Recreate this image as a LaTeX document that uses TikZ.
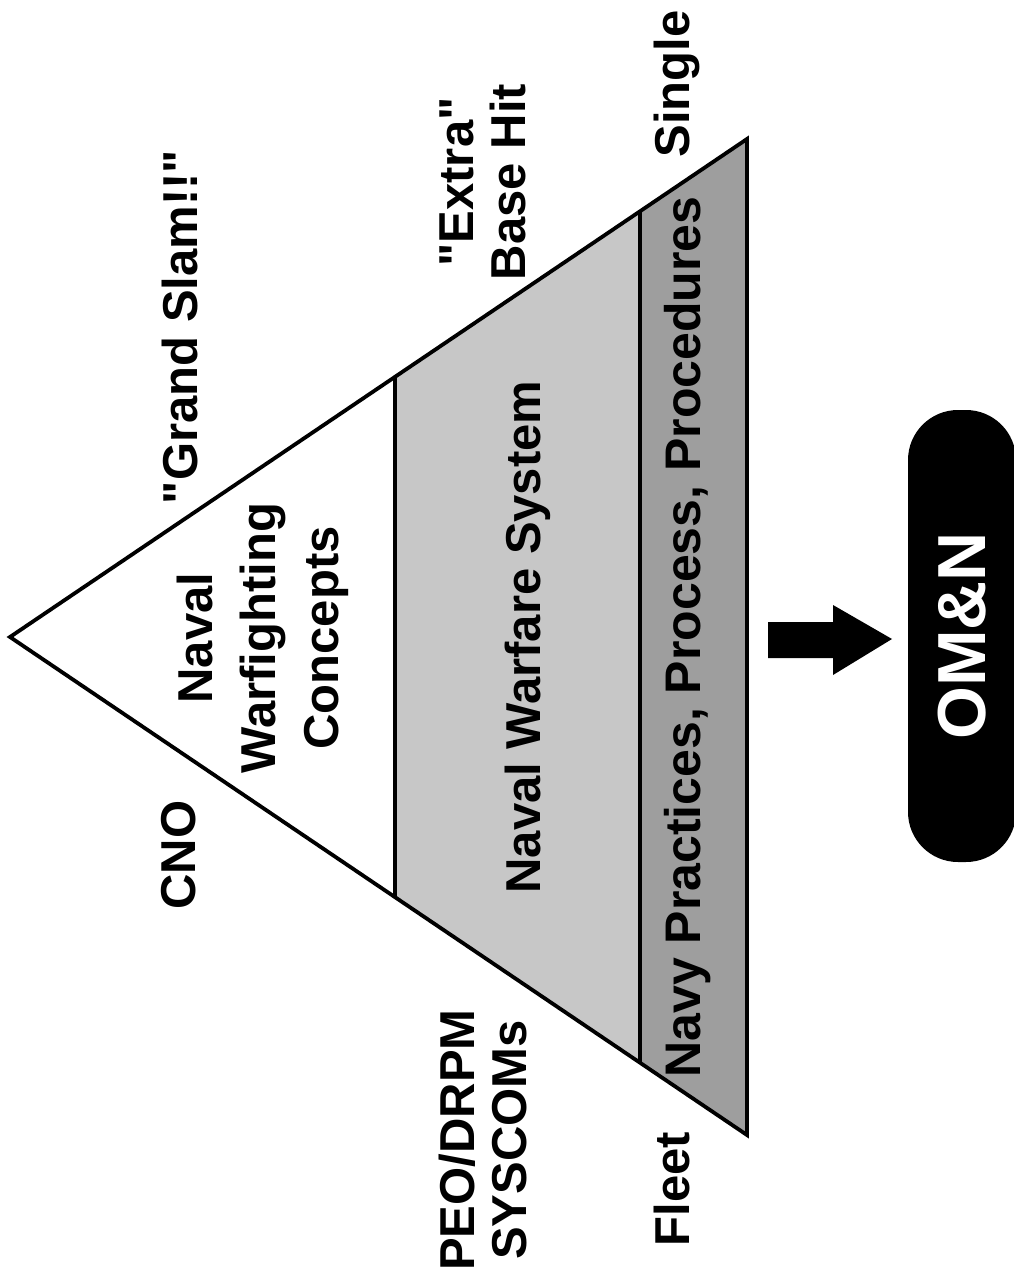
\documentclass[tikz,border=0pt]{standalone}
\usepackage{fontspec}
\newfontfamily\arialfam{Liberation Sans}
\begin{document}
\begin{tikzpicture}[x=1pt,y=-1pt,
  lbl/.style={font=\arialfam\fontsize{49}{52}\selectfont\bfseries, rotate=90, inner sep=0pt, align=center},
  edge/.style={line width=3.8pt, line join=miter},
  divider/.style={line width=3.2pt},
  pill/.style={fill=black, rounded corners=50pt, rotate=90, minimum width=452pt, minimum height=108pt, inner sep=0pt,
    text=white, font=\arialfam\fontsize{68}{70}\selectfont\bfseries}]
\definecolor{bandA}{gray}{0.78}
\definecolor{bandB}{gray}{0.62}
\useasboundingbox (0,0) rectangle (1014,1279);
% triangle geometry
\coordinate (apex) at (10,637);
\coordinate (tr) at (747,139);
\coordinate (br) at (747,1135);
\coordinate (d1t) at (395,376.8);
\coordinate (d1b) at (395,897.2);
\coordinate (d2t) at (640,211.3);
\coordinate (d2b) at (640,1062.7);
\fill[bandA] (d1t) -- (d2t) -- (d2b) -- (d1b) -- cycle;
\fill[bandB] (d2t) -- (tr) -- (br) -- (d2b) -- cycle;
\draw[divider] (d1t) -- (d1b);
\draw[divider] (d2t) -- (d2b);
\draw[edge] (apex) -- (tr) -- (br) -- cycle;
% labels
\node[lbl, anchor=base] (grand) at (197,327) {"Grand Slam!!"};
\node[lbl, anchor=base] (cno) at (195,855) {CNO};
\node[lbl, font=\arialfam\fontsize{49}{63}\selectfont\bfseries] (nwc) at (263,638) {Naval\\Warfighting\\Concepts};
\node[lbl] (extra) at (483,182) {"Extra"\\Base Hit};
\node[lbl] (peo) at (483,1140) {PEO/DRPM\\SYSCOMs};
\node[lbl, anchor=base] (nws) at (540,637) {Naval Warfare System};
\node[lbl, anchor=base] (single) at (689,84) {Single};
\node[lbl, anchor=base] (fleet) at (689,1189) {Fleet};
\node[lbl, anchor=base, font=\arialfam\fontsize{50}{52}\selectfont\bfseries] (npp) at (700,637) {Navy Practices, Process, Procedures};
% OM&N pill
\node[pill] (omn) at (962,636) {OM\&N};
% block arrow
\fill (768,622) -- (833,622) -- (833,605) -- (892,639) -- (833,675) -- (833,658) -- (768,658) -- cycle;
\end{tikzpicture}
\end{document}
